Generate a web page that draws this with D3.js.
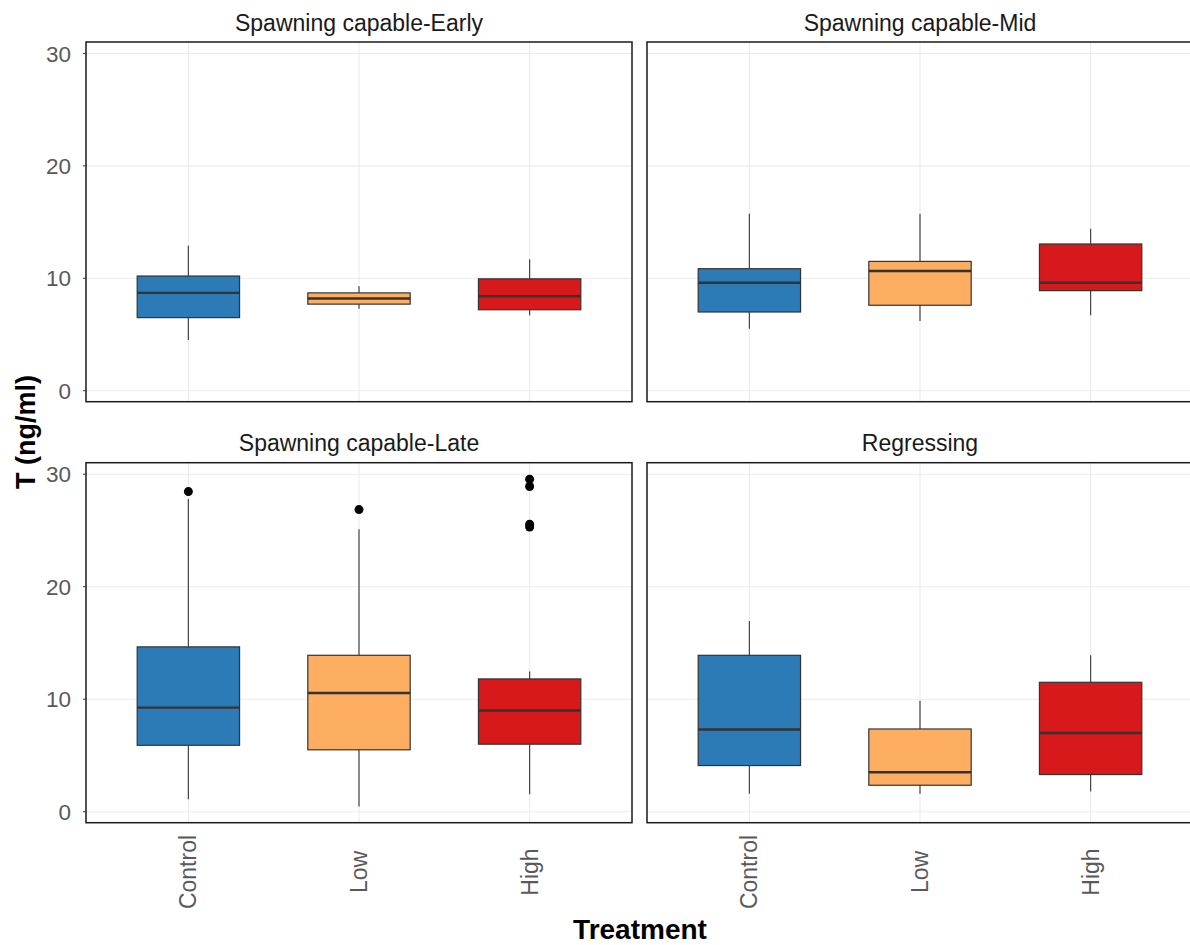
<!DOCTYPE html>
<html>
<head>
<meta charset="utf-8">
<script src="https://cdn.jsdelivr.net/npm/d3@7"></script>
<style>
  body { margin: 0; background: #fff; }
  text { font-family: "Liberation Sans", Arial, sans-serif; }
</style>
</head>
<body>
<script>
var w = 1190;
var h = 945;

// Facets and groups
var stages = ["Spawning capable-Early", "Spawning capable-Mid", "Spawning capable-Late", "Regressing"];
var treatments = ["Control", "Low", "High"];
var colors = ["#2c7bb6", "#fdae61", "#d7191c"];

// Box statistics per stage (rows) and treatment (columns)
var whiskerLow  = [[4.5, 7.3, 6.7], [5.5, 6.2, 6.7], [1.1, 0.45, 1.55], [1.6, 1.6, 1.8]];
var q1          = [[6.5, 7.7, 7.2], [7.0, 7.6, 8.9], [5.9, 5.5, 6.0],  [4.1, 2.35, 3.3]];
var medians     = [[8.7, 8.2, 8.4], [9.6, 10.65, 9.6], [9.25, 10.55, 9.0], [7.3, 3.5, 7.0]];
var q3          = [[10.2, 8.7, 9.95], [10.85, 11.5, 13.05], [14.65, 13.9, 11.8], [13.9, 7.35, 11.5]];
var whiskerHigh = [[12.9, 9.3, 11.7], [15.75, 15.75, 14.4], [27.8, 25.1, 12.45], [16.95, 9.85, 13.9]];
var outliers    = [[[], [], []], [[], [], []], [[28.45], [26.85], [29.55, 28.9, 25.55, 25.3]], [[], [], []]];

var yTicks = [0, 10, 20, 30];

// Panel layout
var colX = [[86, 632], [647, 1193]];
var rowY = [[42, 401.7], [462.7, 822.7]];

var svg = d3.select("body")
    .append("svg")
    .attr("width", w)
    .attr("height", h);

svg.append("rect").attr("width", w).attr("height", h).attr("fill", "#fff");

stages.forEach(function(stage, s) {
    var col = s % 2;
    var row = Math.floor(s / 2);
    var x0 = colX[col][0], x1 = colX[col][1];
    var y0 = rowY[row][0], y1 = rowY[row][1];

    var x = d3.scaleBand()
        .domain(treatments)
        .range([x0, x1])
        .paddingInner(0.4)
        .paddingOuter(0.3);

    var y = d3.scaleLinear()
        .domain([-0.98, 31.02])
        .range([y1, y0]);

    var g = svg.append("g");

    // Grid lines
    g.selectAll(".hgrid")
        .data(yTicks)
        .enter().append("line")
        .attr("x1", x0).attr("x2", x1)
        .attr("y1", function(d) { return y(d); })
        .attr("y2", function(d) { return y(d); })
        .attr("stroke", "#ebebeb")
        .attr("stroke-width", 1.1);

    g.selectAll(".vgrid")
        .data(treatments)
        .enter().append("line")
        .attr("x1", function(d) { return x(d) + x.bandwidth() / 2; })
        .attr("x2", function(d) { return x(d) + x.bandwidth() / 2; })
        .attr("y1", y0).attr("y2", y1)
        .attr("stroke", "#ebebeb")
        .attr("stroke-width", 1.1);

    // Boxes
    var boxes = g.selectAll(".box")
        .data(treatments)
        .enter().append("g")
        .attr("class", "box");

    boxes.append("line")
        .attr("x1", function(d) { return x(d) + x.bandwidth() / 2; })
        .attr("x2", function(d) { return x(d) + x.bandwidth() / 2; })
        .attr("y1", function(d, i) { return y(whiskerHigh[s][i]); })
        .attr("y2", function(d, i) { return y(q3[s][i]); })
        .attr("stroke", "#444")
        .attr("stroke-width", 1.2);

    boxes.append("line")
        .attr("x1", function(d) { return x(d) + x.bandwidth() / 2; })
        .attr("x2", function(d) { return x(d) + x.bandwidth() / 2; })
        .attr("y1", function(d, i) { return y(q1[s][i]); })
        .attr("y2", function(d, i) { return y(whiskerLow[s][i]); })
        .attr("stroke", "#444")
        .attr("stroke-width", 1.2);

    boxes.append("rect")
        .attr("x", function(d) { return x(d); })
        .attr("width", x.bandwidth())
        .attr("y", function(d, i) { return y(q3[s][i]); })
        .attr("height", function(d, i) { return y(q1[s][i]) - y(q3[s][i]); })
        .attr("fill", function(d, i) { return colors[i]; })
        .attr("stroke", "#333")
        .attr("stroke-width", 1.2);

    boxes.append("line")
        .attr("x1", function(d) { return x(d); })
        .attr("x2", function(d) { return x(d) + x.bandwidth(); })
        .attr("y1", function(d, i) { return y(medians[s][i]); })
        .attr("y2", function(d, i) { return y(medians[s][i]); })
        .attr("stroke", "#333")
        .attr("stroke-width", 2.4);

    boxes.each(function(d, i) {
        d3.select(this).selectAll("circle")
            .data(outliers[s][i])
            .enter().append("circle")
            .attr("cx", x(d) + x.bandwidth() / 2)
            .attr("cy", function(v) { return y(v); })
            .attr("r", 4.5)
            .attr("fill", "#000");
    });

    // Panel border
    g.append("rect")
        .attr("x", x0).attr("y", y0)
        .attr("width", x1 - x0).attr("height", y1 - y0)
        .attr("fill", "none")
        .attr("stroke", "#1a1a1a")
        .attr("stroke-width", 1.5);

    // Strip title
    g.append("text")
        .attr("x", (x0 + x1) / 2)
        .attr("y", y0 - 11.5)
        .attr("text-anchor", "middle")
        .attr("font-size", "23px")
        .attr("fill", "#1a1a1a")
        .text(stage);

    // Y axis on left column
    if (col === 0) {
        g.selectAll(".ytick")
            .data(yTicks)
            .enter().append("line")
            .attr("x1", x0 - 3).attr("x2", x0)
            .attr("y1", function(d) { return y(d); })
            .attr("y2", function(d) { return y(d); })
            .attr("stroke", "#333");

        g.selectAll(".ylab")
            .data(yTicks)
            .enter().append("text")
            .attr("x", x0 - 15)
            .attr("y", function(d) { return y(d); })
            .attr("dy", "0.36em")
            .attr("text-anchor", "end")
            .attr("font-size", "22.5px")
            .attr("fill", "#595959")
            .text(function(d) { return d; });
    }

    // X labels on bottom row
    if (row === 1) {
        g.selectAll(".xlab")
            .data(treatments)
            .enter().append("text")
            .attr("transform", function(d) {
                return "translate(" + (x(d) + x.bandwidth() / 2) + ",872) rotate(-90)";
            })
            .attr("dy", "0.35em")
            .attr("text-anchor", "middle")
            .attr("font-size", "23px")
            .attr("fill", "#595959")
            .text(function(d) { return d; });
    }
});

// Axis titles
svg.append("text")
    .attr("x", 640)
    .attr("y", 939)
    .attr("text-anchor", "middle")
    .attr("font-size", "28px")
    .attr("font-weight", "bold")
    .attr("fill", "#000")
    .text("Treatment");

svg.append("text")
    .attr("transform", "translate(35,432) rotate(-90)")
    .attr("text-anchor", "middle")
    .attr("font-size", "27px")
    .attr("font-weight", "bold")
    .attr("fill", "#000")
    .text("T (ng/ml)");
</script>
</body>
</html>
